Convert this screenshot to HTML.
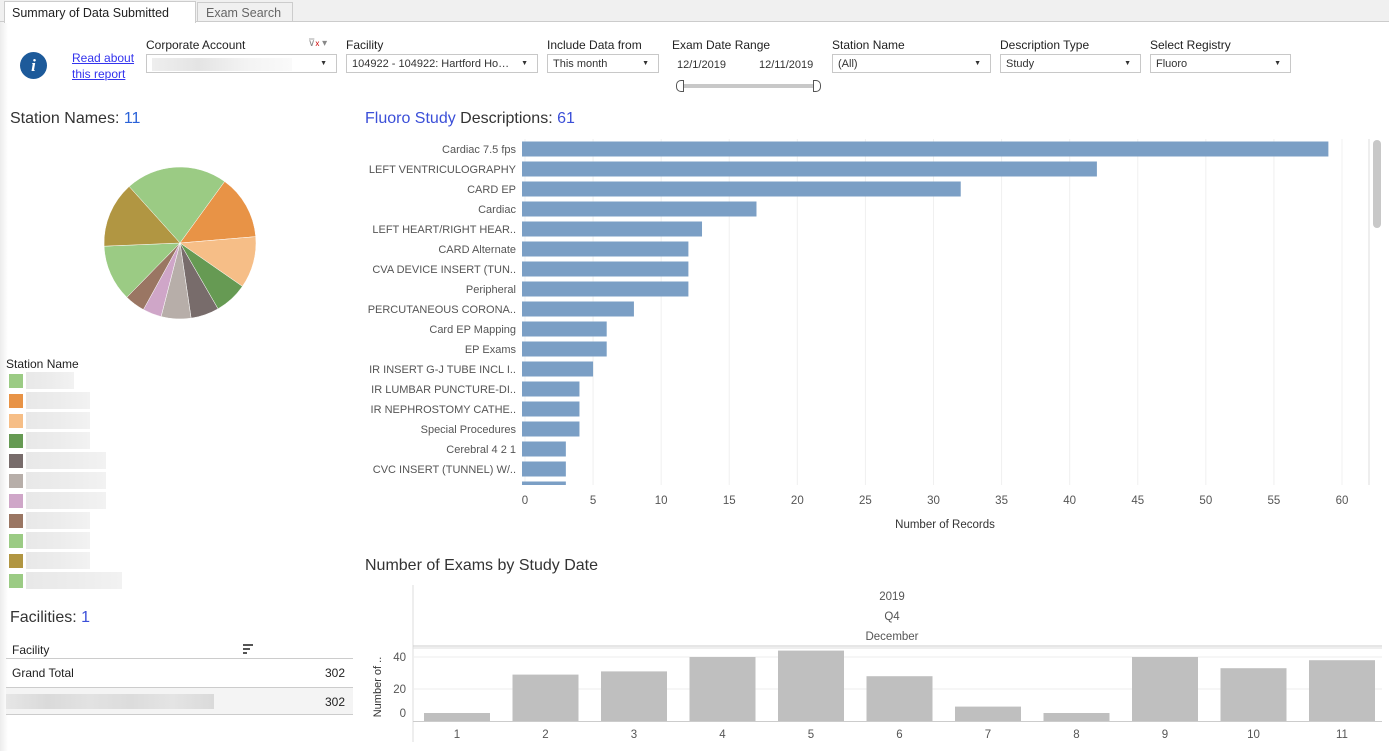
<!DOCTYPE html>
<html><head><meta charset="utf-8">
<style>
*{box-sizing:border-box;margin:0;padding:0}
body{width:1389px;height:751px;background:#fff;font-family:"Liberation Sans",sans-serif;color:#333;position:relative;overflow:hidden}
.abs{position:absolute}
.lbl{font-size:12px;color:#222;position:absolute}
.dd{position:absolute;height:19px;border:1px solid #c8c8c8;background:#fff;font-size:11px;padding:3px 5px;color:#333;white-space:nowrap}
.dd:after{content:"\25BC";position:absolute;right:9px;top:5px;font-size:7px;color:#333}
.title{position:absolute;font-size:16px;color:#333}
.blue{color:#3b4fd8}
svg text{font-family:"Liberation Sans",sans-serif}
</style></head><body>
<div class="abs" style="left:0;top:22px;width:8px;height:729px;background:linear-gradient(90deg,#ececec,#fff)"></div>
<div class="abs" style="left:0;top:0;width:1389px;height:22px;background:#f0f0f0;border-bottom:1px solid #ccc"></div>
<div class="abs" style="left:4px;top:1px;width:192px;height:22px;background:#fff;border:1px solid #ccc;border-bottom:none;font-size:12.5px;padding:4px 7px;color:#222;white-space:nowrap">Summary of Data Submitted</div>
<div class="abs" style="left:197px;top:2px;width:96px;height:20px;background:#f0f0f0;border:1px solid #ccc;font-size:12.5px;padding:3px 8px;color:#666;white-space:nowrap">Exam Search</div>

<div class="abs" style="left:20px;top:52px;width:27px;height:27px;border-radius:50%;background:#1d5a9a;color:#fff;font:italic bold 17px 'Liberation Serif',serif;text-align:center;line-height:27px">i</div>
<div class="abs" style="left:72px;top:50px;font-size:12px;color:#3333ee;text-decoration:underline;line-height:16px">Read about<br>this report</div>

<div class="lbl" style="left:146px;top:38px">Corporate Account</div>
<div class="abs" style="left:308px;top:38px;font-size:10px;color:#888">⊽<span style="color:#c00;font-size:8px">x</span> ▾</div>
<div class="dd" style="left:146px;top:54px;width:191px"><span style="display:inline-block;width:140px;height:13px;background:linear-gradient(90deg,#eee,#e4e4e4,#f3f3f3,#fafafa)"></span></div>
<div class="lbl" style="left:346px;top:38px">Facility</div>
<div class="dd" style="left:346px;top:54px;width:192px">104922 - 104922: Hartford Ho…</div>
<div class="lbl" style="left:547px;top:38px">Include Data from</div>
<div class="dd" style="left:547px;top:54px;width:112px">This month</div>
<div class="lbl" style="left:672px;top:38px">Exam Date Range</div>
<div class="abs" style="left:677px;top:59px;font-size:11px">12/1/2019</div>
<div class="abs" style="left:759px;top:59px;font-size:11px">12/11/2019</div>
<div class="abs" style="left:680px;top:84px;width:140px;height:4px;background:#c8c8c8"></div>
<div class="abs" style="left:676px;top:80px;width:8px;height:12px;border:1px solid #555;border-radius:5px 0 0 5px;background:#fff"></div>
<div class="abs" style="left:813px;top:80px;width:8px;height:12px;border:1px solid #555;border-radius:0 5px 5px 0;background:#fff"></div>
<div class="lbl" style="left:832px;top:38px">Station Name</div>
<div class="dd" style="left:832px;top:54px;width:159px">(All)</div>
<div class="lbl" style="left:1000px;top:38px">Description Type</div>
<div class="dd" style="left:1000px;top:54px;width:141px">Study</div>
<div class="lbl" style="left:1150px;top:38px">Select Registry</div>
<div class="dd" style="left:1150px;top:54px;width:141px">Fluoro</div>

<div class="title" style="left:10px;top:110px">Station Names: <span class="blue" style="color:#2a62d8">11</span></div>
<svg class="abs" style="left:0;top:130px" width="360" height="230" id="pie"></svg>

<div class="lbl" style="left:6px;top:357px">Station Name</div>
<div id="legend"></div>

<div class="title" style="left:10px;top:609px">Facilities: <span class="blue">1</span></div>
<div class="lbl" style="left:12px;top:643px">Facility</div>
<div class="abs" style="left:243px;top:644px;width:10px;height:10px;background:linear-gradient(#555 0 2px,transparent 2px 4px,#555 4px 6px,transparent 6px 8px,#555 8px 10px);clip-path:polygon(0 0,100% 0,100% 20%,70% 20%,70% 60%,40% 60%,40% 100%,0 100%)"></div>
<div class="abs" style="left:6px;top:658px;width:347px;height:1px;background:#ccc"></div>
<div class="lbl" style="left:12px;top:666px">Grand Total</div>
<div class="lbl" style="left:325px;top:666px">302</div>
<div class="abs" style="left:6px;top:687px;width:347px;height:28px;background:#f4f4f4;border-top:1px solid #ccc;border-bottom:1px solid #ccc"></div>
<div class="abs" style="left:6px;top:694px;width:208px;height:15px;background:linear-gradient(90deg,#e6e6e6,#dadada,#e2e2e2,#dcdcdc,#e4e4e4,#dadada)"></div>
<div class="lbl" style="left:325px;top:695px">302</div>

<div class="title" style="left:365px;top:110px"><span style="color:#3b4fd8">Fluoro Study</span> Descriptions: <span class="blue">61</span></div>
<svg class="abs" style="left:0;top:0" width="1389" height="751" id="charts"></svg>
<div class="title" style="left:365px;top:557px">Number of Exams by Study Date</div>

<script>
const NS="http://www.w3.org/2000/svg";
function mk(p,t,a){const e=document.createElementNS(NS,t);for(const k in a)e.setAttribute(k,a[k]);p.appendChild(e);return e;}

// Pie data
const pieValues=[65,41,33,21,18,19,12,13,36,42];
const pieColors=["#9bcb84","#e89346","#f6be87","#669a53","#786c6b","#b7aea9","#cfa6c8","#9a7663","#9bcb84","#b19642"];
const pieStart=-42;
const pie=document.getElementById('pie');
(function(){const cx=180,cy=113,r=76;const tot=pieValues.reduce((a,b)=>a+b,0);let a=pieStart;
pieValues.forEach((v,i)=>{const d=v/tot*360;const a0=a*Math.PI/180,a1=(a+d)*Math.PI/180;
const x0=cx+r*Math.sin(a0),y0=cy-r*Math.cos(a0),x1=cx+r*Math.sin(a1),y1=cy-r*Math.cos(a1);
const p=mk(pie,'path',{d:`M${cx},${cy}L${x0},${y0}A${r},${r} 0 ${d>180?1:0} 1 ${x1},${y1}Z`,fill:pieColors[i],stroke:'#fff','stroke-width':0.5});


a+=d;});})();

// Legend
const legendColors=["#9bcb84","#e89346","#f6be87","#669a53","#786c6b","#b7aea9","#cfa6c8","#9a7663","#9bcb84","#b19642","#9bcb84"];
const legendWidths=[48,64,64,64,80,80,80,64,64,64,96];
const lg=document.getElementById('legend');
legendColors.forEach((c,i)=>{const s=document.createElement('div');s.className='abs';
s.style.cssText=`left:9px;top:${374+i*20}px;width:14px;height:14px;background:${c}`;


lg.appendChild(s);
const b=document.createElement('div');b.className='abs';
b.style.cssText=`left:26px;top:${372+i*20}px;width:${legendWidths[i]}px;height:17px;background:linear-gradient(90deg,#e8e8e8,#ececec,#f2f2f2)`;


lg.appendChild(b);});

const svg=document.getElementById('charts');
// Horizontal bar chart
const descCategories=["Cardiac 7.5 fps","LEFT VENTRICULOGRAPHY","CARD EP","Cardiac","LEFT HEART/RIGHT HEAR..","CARD Alternate","CVA DEVICE INSERT (TUN..","Peripheral","PERCUTANEOUS CORONA..","Card EP Mapping","EP Exams","IR INSERT G-J TUBE INCL I..","IR LUMBAR PUNCTURE-DI..","IR NEPHROSTOMY CATHE..","Special Procedures","Cerebral 4 2 1","CVC INSERT (TUNNEL) W/..","Other"];
const descValues=[59,42,32,17,13,12,12,12,8,6,6,5,4,4,4,3,3,3];
const xTicks=[0,5,10,15,20,25,30,35,40,45,50,55,60];
const xs=v=>522+v*(1342-525)/60+3;
const yRow=i=>149+i*20;
mk(svg,'rect',{x:521,y:139,width:848,height:346,fill:'#fff'});
xTicks.forEach(t=>{mk(svg,'line',{x1:xs(t),x2:xs(t),y1:139,y2:485,stroke:'#f0f0f0'});
const tx=mk(svg,'text',{x:xs(t),y:504,'text-anchor':'middle','font-size':11.5,fill:'#555'});tx.textContent=t;

});
mk(svg,'line',{x1:1369,x2:1369,y1:139,y2:485,stroke:'#ddd'});
const cp=mk(mk(svg,'defs',{}),'clipPath',{id:'clipH'});mk(cp,'rect',{x:300,y:139,width:1100,height:346});
const clipG=mk(svg,'g',{'clip-path':'url(#clipH)'});
descValues.forEach((v,i)=>{const r=mk(clipG,'rect',{x:xs(0)-3,y:yRow(i)-7.5,width:xs(v)-xs(0)+3,height:15,fill:'#7b9fc5'});


const t=mk(clipG,'text',{x:516,y:yRow(i)+4,'text-anchor':'end','font-size':11,fill:'#555'});t.textContent=descCategories[i];

});
const xt=mk(svg,'text',{x:945,y:528,'text-anchor':'middle','font-size':11.5,fill:'#333'});xt.textContent='Number of Records';


const sb=mk(svg,'rect',{x:1373,y:140,width:8,height:88,rx:4,fill:'#c8c8c8'});



// Column chart
const days=["1","2","3","4","5","6","7","8","9","10","11"];
const dayValues=[5,29,31,40,44,28,9,5,40,33,38];
const yTicks=[0,20,40];
const ys=v=>721-v*1.6;
const bx=i=>413+i*88.5;
mk(svg,'line',{x1:413,x2:413,y1:585,y2:742,stroke:'#ddd'});
[['2019',600],['Q4',620],['December',640]].forEach(([s,y])=>{const t=mk(svg,'text',{x:892,y:y,'text-anchor':'middle','font-size':11.5,fill:'#555'});t.textContent=s;

});
mk(svg,'line',{x1:413,x2:1382,y1:646,y2:646,stroke:'#ccc'});
mk(svg,'line',{x1:413,x2:1382,y1:648,y2:648,stroke:'#ddd'});
yTicks.forEach(t=>{if(t>0)mk(svg,'line',{x1:413,x2:1382,y1:ys(t),y2:ys(t),stroke:'#eee'});
const tx=mk(svg,'text',{x:406,y:Math.min(ys(t)+4,717),'text-anchor':'end','font-size':11.5,fill:'#555'});tx.textContent=t;

});
dayValues.forEach((v,i)=>{const r=mk(svg,'rect',{x:bx(i)+11,y:ys(v),width:66,height:ys(0)-ys(v),fill:'#bfbfbf'});


const t=mk(svg,'text',{x:bx(i)+44,y:738,'text-anchor':'middle','font-size':11.5,fill:'#555'});t.textContent=days[i];

});
mk(svg,'line',{x1:413,x2:1382,y1:721.5,y2:721.5,stroke:'#ccc'});
const yt=mk(svg,'text',{x:381,y:687,'text-anchor':'middle','font-size':11,fill:'#333',transform:'rotate(-90 381 687)'});yt.textContent='Number of ..';


</script>
</body></html>
